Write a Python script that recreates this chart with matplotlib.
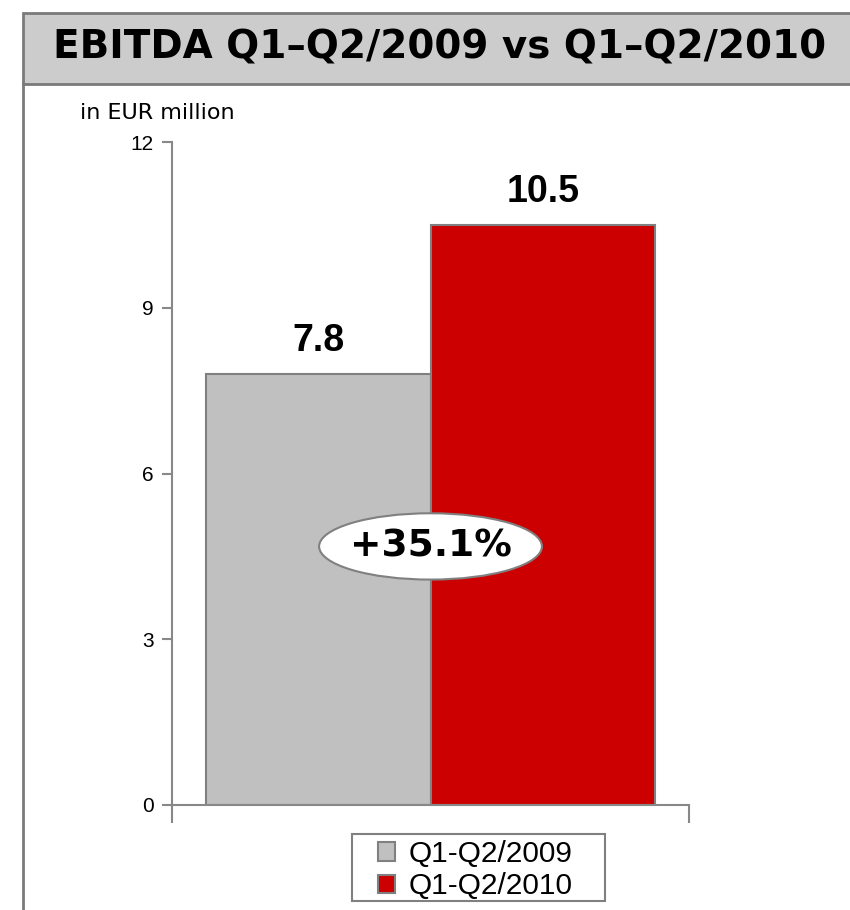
import matplotlib
matplotlib.use("Agg")
import matplotlib.pyplot as plt
from matplotlib.patches import Rectangle, Ellipse
from matplotlib.lines import Line2D

title = "EBITDA Q1\u2013Q2/2009 vs Q1\u2013Q2/2010"
unit_label = "in EUR million"
series_names = ["Q1-Q2/2009", "Q1-Q2/2010"]
series_values = [7.8, 10.5]
series_colors = ["#c0c0c0", "#cc0000"]
value_labels = ["7.8", "10.5"]
growth_label = "+35.1%"
y_ticks = [0, 3, 6, 9, 12]

W, H = 850, 910
fig = plt.figure(figsize=(W / 100, H / 100), dpi=100)
fig.patch.set_facecolor("white")

def fx(px):
    return px / W

def fy(py):
    return 1 - py / H

# title box
fig.patches.append(Rectangle((fx(23), fy(84)), 1.2, fy(13) - fy(84), transform=fig.transFigure,
                             facecolor="#cccccc", edgecolor="#7a7a7a", linewidth=2, zorder=0))
fig.lines.append(Line2D([fx(23), fx(23)], [fy(84), 0], transform=fig.transFigure,
                        color="#7a7a7a", linewidth=2))
fig.text(fx(440), fy(48), title, ha="center", va="center", fontsize=28,
         fontweight="bold", family="DejaVu Sans", color="black")
fig.text(fx(80), fy(113), unit_label, ha="left", va="center", fontsize=16,
         family="DejaVu Sans", color="black")

ax = fig.add_axes([fx(172), fy(805), fx(689) - fx(172), fy(142) - fy(805)])
ax.set_xlim(-0.5, 0.5)
ax.set_ylim(0, 12)

bw = 0.435
offsets = [-bw / 2, bw / 2]
bars = []
for off, v, c, name, lab in zip(offsets, series_values, series_colors, series_names, value_labels):
    b = ax.bar(off, v, width=bw, color=c, edgecolor="#808080", linewidth=1.5, label=name, zorder=2)
    bars.append(b)
    ax.text(off, v + 0.42, lab, ha="center", va="baseline", fontsize=27, fontweight="bold",
            family="Liberation Sans", color="black")

# growth ellipse
ax.add_patch(Ellipse((0, 4.68), 0.431, 1.2, facecolor="white", edgecolor="#808080",
                     linewidth=1.5, zorder=3))
ax.text(0, 4.68, growth_label, ha="center", va="center", fontsize=27, fontweight="bold",
        family="DejaVu Sans", color="black", zorder=4)

for s in ["top", "right"]:
    ax.spines[s].set_visible(False)
for s in ["left", "bottom"]:
    ax.spines[s].set_color("#888888")
    ax.spines[s].set_linewidth(1.5)

ax.set_yticks(y_ticks)
ax.set_yticklabels([str(t) for t in y_ticks], family="Liberation Sans", fontsize=15)
ax.tick_params(axis="y", length=7, width=1.5, color="#888888", pad=6)
ax.set_xticks([-0.5, 0.5])
ax.set_xticklabels([])
ax.tick_params(axis="x", length=13, width=1.5, color="#888888", direction="out")

# legend frame + legend
fig.patches.append(Rectangle((fx(352), fy(901)), fx(605) - fx(352), fy(834) - fy(901),
                             transform=fig.transFigure, facecolor="white", edgecolor="#808080",
                             linewidth=1.5, zorder=1))
leg = fig.legend(handles=[b for b in bars], labels=series_names, loc="upper left",
                 bbox_to_anchor=(fx(378), fy(840)), bbox_transform=fig.transFigure,
                 prop={"family": "Liberation Sans", "size": 21.5}, frameon=False,
                 handlelength=0.58, handleheight=0.58, handletextpad=0.45,
                 labelspacing=0.15, borderpad=0, borderaxespad=0)
leg.set_zorder(2)

fig.savefig("out.png", dpi=100)
